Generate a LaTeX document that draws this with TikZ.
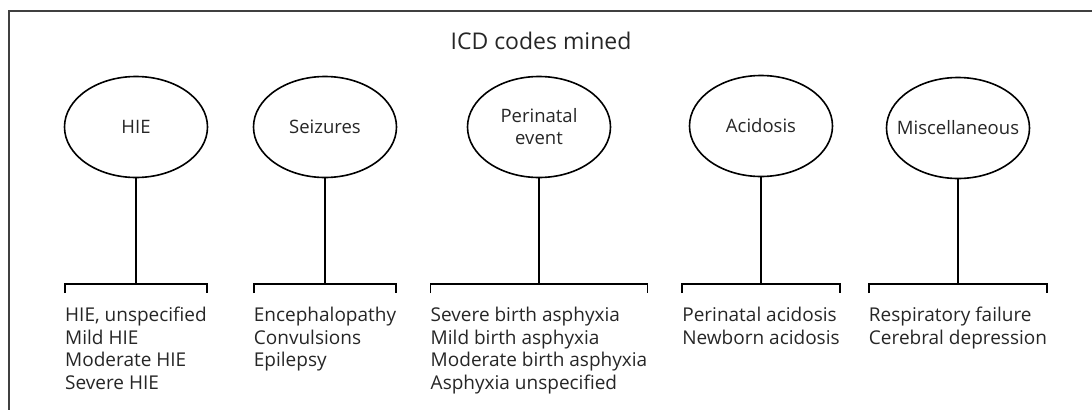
\documentclass[tikz,border=0pt]{standalone}
\usepackage{fontspec}
\setmainfont{Open Sans}
\usetikzlibrary{shapes.geometric}

\begin{document}
\begin{tikzpicture}[x=1pt, y=-1pt,
    topic/.style={draw, ellipse, line width=1.6pt, minimum width=143pt, minimum height=101pt,
                  inner sep=0pt, label={[align=center, text=black!85, font=\fontsize{18.5}{22}\selectfont]center:#1}},
    codes/.style={anchor=north, align=left, inner sep=0pt, text=black!85,
                  font=\fontsize{19}{22.5}\selectfont},
    stem/.style={line width=2.6pt},
    bracket/.style={line width=1.7pt}]
    \useasboundingbox (0,0) rectangle (1092,410);

    % frame
    \draw[line width=1.2pt, black!75] (1092,11) -- (9,11) -- (9,410);

    % title
    \node[text=black!85, font=\fontsize{23}{27}\selectfont] (title) at (541,41) {ICD codes mined};

    % groups
    \node[topic=HIE]              (hie)  at (136,127) {};
    \node[topic=Seizures]         (seiz) at (325,127) {};
    \node[topic={Perinatal\\event}] (peri) at (539,127) {};
    \node[topic=Acidosis]         (acid) at (761,126) {};
    \node[topic=Miscellaneous]    (misc) at (958,128) {};

    % codes
    \node[codes] (hie-list)  at (136,307) {HIE, unspecified\\Mild HIE\\Moderate HIE\\Severe HIE};
    \node[codes] (seiz-list) at (325,307) {Encephalopathy\\Convulsions\\Epilepsy};
    \node[codes] (peri-list) at (539,307) {Severe birth asphyxia\\Mild birth asphyxia\\Moderate birth asphyxia\\Asphyxia unspecified};
    \node[codes] (acid-list) at (761,307) {Perinatal acidosis\\Newborn acidosis};
    \node[codes] (misc-list) at (958,307) {Respiratory failure\\Cerebral depression};

    % stems and brackets
    \foreach \g in {hie,seiz,peri,acid,misc} {
        \draw[stem] (\g.south) -- ([yshift=23pt]\g-list.north);
        \draw[bracket] ([yshift=14pt]\g-list.north west) -- ([yshift=23pt]\g-list.north west)
            -- ([yshift=23pt]\g-list.north east) -- ([yshift=14pt]\g-list.north east);
    }
\end{tikzpicture}
\end{document}
